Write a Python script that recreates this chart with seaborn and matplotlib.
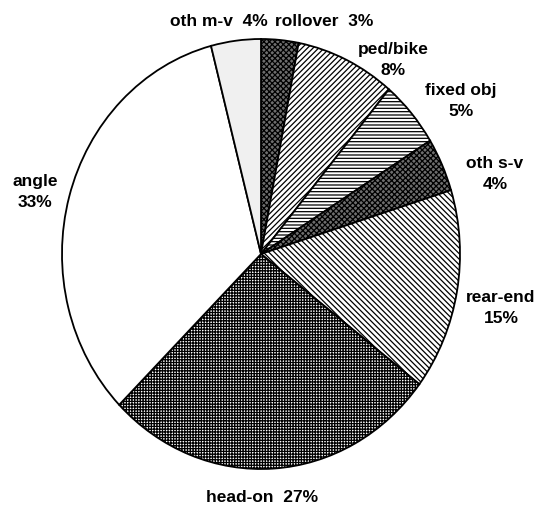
import matplotlib
matplotlib.use('Agg')
import matplotlib.pyplot as plt
import seaborn as sns

# Dados (percentuais por tipo de acidente, sentido horario a partir do topo)
categorias = ['rollover', 'ped/bike', 'fixed obj', 'oth s-v',
              'rear-end', 'head-on', 'angle', 'oth m-v']
percentuais = [3, 8, 5, 4, 15, 27, 33, 4]
rotulos = ['rollover  3%', 'ped/bike\n8%', 'fixed obj\n5%', 'oth s-v\n4%',
           'rear-end\n15%', 'head-on  27%', 'angle\n33%', 'oth m-v  4%']

# Estilo de cada fatia (preenchimento e hachura)
cores_fundo = ['#6e6e6e', 'white', 'white', '#6e6e6e',
               'white', 'white', 'white', '#f0f0f0']
hachuras = ['xxxxxx', '//////', '-----', 'xxxxxx',
            '\\\\\\\\\\\\', '++++++', '', '']

# Posicao dos rotulos (em unidades do raio) e alinhamento
pos_rotulos = [(0.07, 1.084), (0.663, 0.907), (1.005, 0.716), (1.176, 0.377),
               (1.206, -0.247), (0.005, -1.13), (-1.136, 0.293), (0.035, 1.084)]
alinh = ['left', 'center', 'center', 'center',
         'center', 'center', 'center', 'right']

sns.set_style('white')
plt.rcParams['font.family'] = ['Liberation Sans', 'DejaVu Sans']
plt.rcParams['hatch.linewidth'] = 0.9

fig = plt.figure(figsize=(5.4, 5.06), dpi=100)
ax = fig.add_axes([0, 0, 1, 1])

fatias, _ = ax.pie(percentuais, startangle=90, counterclock=False,
                   colors=cores_fundo,
                   wedgeprops={'edgecolor': 'black', 'linewidth': 1.3})
for fatia, hachura in zip(fatias, hachuras):
    fatia.set_hatch(hachura)

for texto, (px, py), ha in zip(rotulos, pos_rotulos, alinh):
    ax.text(px, py, texto, ha=ha, va='center', fontsize=12.5,
            fontweight='bold', color='black', linespacing=1.5)

# pizza levemente eliptica como no original
ax.set_aspect('auto')
ax.set_xlim(-261 / 199, (540 - 261) / 199)
ax.set_ylim(-(506 - 255) / 215, 255 / 215)
ax.axis('off')

fig.savefig('out.png', dpi=100)
